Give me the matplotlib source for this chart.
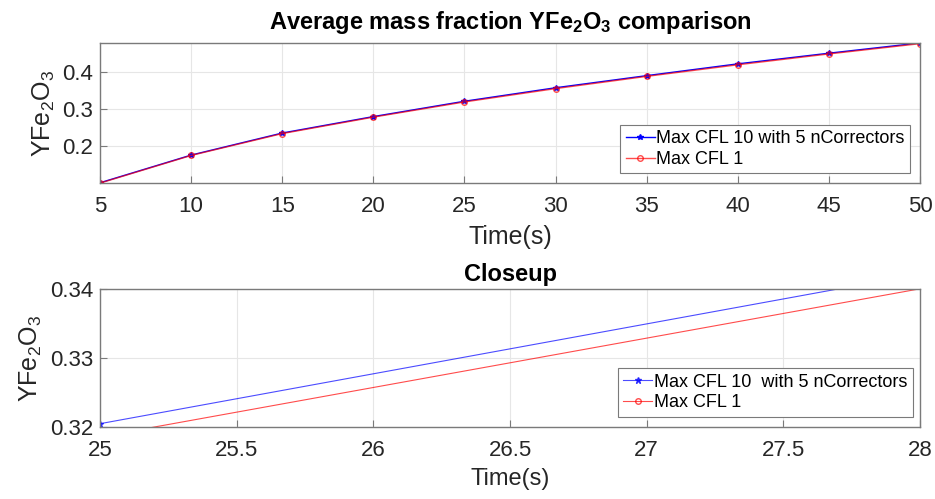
import numpy as np
import matplotlib
matplotlib.use("Agg")
import matplotlib.pyplot as plt

plt.rcParams['font.family'] = ['Liberation Sans', 'DejaVu Sans']
plt.rcParams['mathtext.default'] = 'regular'

# sampled data
time = [5, 10, 15, 20, 25, 30, 35, 40, 45, 50]
y_cfl10 = [0.1025, 0.1765, 0.2355, 0.2795, 0.3205, 0.3566, 0.3890, 0.4205, 0.4490, 0.4765]
y_cfl1 = [0.1015, 0.1755, 0.2340, 0.2780, 0.3186, 0.3543, 0.3870, 0.4180, 0.4470, 0.4745]

top_xticks = [5, 10, 15, 20, 25, 30, 35, 40, 45, 50]
top_yticks = [0.2, 0.3, 0.4]
close_xticks = [25, 25.5, 26, 26.5, 27, 27.5, 28]
close_yticks = [0.32, 0.33, 0.34]

ylab = 'YFe$_2$O$_3$'
axcol = '#7a7a7a'


def style(ax):
    for s in ax.spines.values():
        s.set_color(axcol)
        s.set_linewidth(1.0)
    ax.tick_params(direction='in', colors=axcol, labelcolor='#262626', length=5, pad=5)
    ax.tick_params(axis='x', pad=9)
    ax.grid(True, color='#e6e6e6', linewidth=0.8)
    ax.set_axisbelow(True)


fig = plt.figure(figsize=(9.35, 4.99), dpi=100)

# top plot
ax1 = fig.add_axes([0.107, 0.633, 0.877, 0.281])
ax1.plot(time, y_cfl10, '-*', color='blue', lw=1.0, ms=4, label='Max CFL 10 with 5 nCorrectors')
ax1.plot(time, y_cfl1, '-o', color='red', lw=1.0, ms=4, mfc='none', alpha=0.7, label='Max CFL 1')
ax1.set_xlim(5, 50)
ax1.set_ylim(min(y_cfl1), max(y_cfl10))
ax1.set_xticks(top_xticks)
ax1.set_yticks(top_yticks)
ax1.set_yticklabels(['0.2', '0.3', '0.4'])
style(ax1)
ax1.tick_params(labelsize=16)
ax1.set_xlabel('Time(s)', fontsize=18, color='#262626', labelpad=6)
ax1.set_ylabel(ylab, fontsize=18, color='#262626', labelpad=4)
ax1.set_title('Average mass fraction ' + ylab + ' comparison', fontsize=17, fontweight='bold', pad=10)
leg1 = ax1.legend(loc='lower right', fontsize=13, fancybox=False, framealpha=1,
                  edgecolor=axcol, handlelength=1.6, borderpad=0.3, labelspacing=0.2,
                  handletextpad=0.1, borderaxespad=0, bbox_to_anchor=(0.988, 0.07))
leg1.get_frame().set_linewidth(0.8)

# closeup
ax2 = fig.add_axes([0.107, 0.144, 0.877, 0.277])
ax2.plot(time, y_cfl10, '-*', color='blue', lw=0.8, ms=5, alpha=0.7, label='Max CFL 10  with 5 nCorrectors')
ax2.plot(time, y_cfl1, '-o', color='red', lw=0.8, ms=4, mfc='none', alpha=0.7, label='Max CFL 1')
ax2.set_xlim(25, 28)
ax2.set_ylim(0.32, 0.34)
ax2.set_xticks(close_xticks)
ax2.set_xticklabels(['25', '25.5', '26', '26.5', '27', '27.5', '28'])
ax2.set_yticks(close_yticks)
style(ax2)
ax2.tick_params(labelsize=16)
ax2.set_xlabel('Time(s)', fontsize=17, color='#262626', labelpad=5)
ax2.set_ylabel(ylab, fontsize=18, color='#262626', labelpad=4)
ax2.set_title('Closeup', fontsize=17, fontweight='bold', pad=6)
leg2 = ax2.legend(loc='lower right', fontsize=13, fancybox=False, framealpha=1,
                  edgecolor=axcol, handlelength=1.6, borderpad=0.3, labelspacing=0.2,
                  handletextpad=0.1, borderaxespad=0, bbox_to_anchor=(0.991, 0.075))
leg2.get_frame().set_linewidth(0.8)

fig.savefig('out.png', dpi=100)
